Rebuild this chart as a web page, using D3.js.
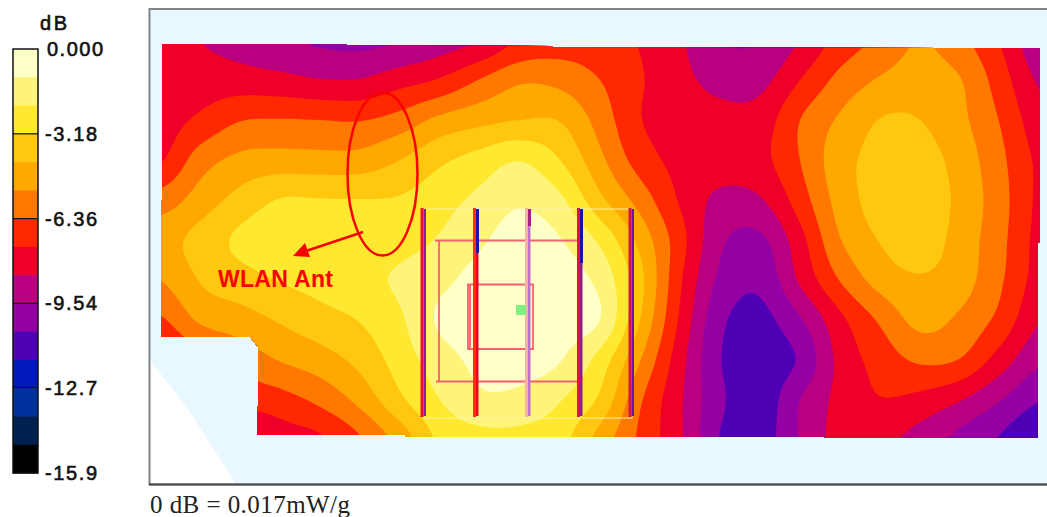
<!DOCTYPE html>
<html>
<head>
<meta charset="utf-8">
<script src="https://cdn.jsdelivr.net/npm/d3@7"></script>
<style>
  html, body { margin: 0; padding: 0; background: #fff; }
  svg { display: block; }
</style>
</head>
<body>
<div class="chart"></div>
<script>
const WIDTH = 1047;
const HEIGHT = 517;

// scale legend
const bandColors = ["#FFFFC8", "#FFF47A", "#FFE930", "#FFC80F", "#FFA800", "#FF7800", "#FF2800", "#EE0028",
    "#B80080", "#9400A4", "#5000B4", "#0018BC", "#00309C", "#002050", "#000000"];
const tickValues = [0, -3.18, -6.36, -9.54, -12.7, -15.9];
const tickLabels = ["0.000", "-3.18", "-6.36", "-9.54", "-12.7", "-15.9"];
const BOTTOM_DB = -15.9;

// sample positions of the grid, in picture pixels
const gridX = [160, 200, 240, 280, 320, 360, 400, 440, 480, 520, 560, 600, 640, 680, 720, 760, 800, 840, 880, 920, 960, 1000, 1040];
const gridY = [40, 80, 120, 160, 200, 240, 280, 320, 360, 400, 440];

// depth, in colour bands below the 0 dB peak (one band = 1.06 dB)
const row040 = [7.6, 8.0, 8.4, 8.85, 9.15, 9.25, 9.05, 8.5, 8.0, 6.9, 6.5, 6.6, 7.05, 7.85, 8.95, 9.0, 7.95, 6.6, 5.8, 4.95, 5.7, 7.0, 8.8];
const row080 = [7.4, 7.5, 7.55, 7.7, 7.95, 7.95, 7.4, 6.9, 5.95, 5.15, 5.3, 6.0, 6.9, 7.7, 8.3, 8.3, 7.0, 5.7, 4.9, 4.5, 4.95, 6.5, 8.15];
const row120 = [7.45, 6.8, 6.05, 5.95, 6.0, 6.05, 5.6, 4.75, 4.3, 4.0, 4.05, 5.4, 6.95, 7.4, 7.7, 7.55, 6.0, 4.85, 3.97, 4.0, 4.75, 6.05, 7.6];
const row160 = [7.1, 5.5, 4.75, 4.6, 4.65, 4.6, 4.0, 3.2, 2.6, 2.05, 3.0, 4.75, 6.45, 7.3, 7.5, 7.3, 6.0, 4.4, 3.7, 3.6, 4.4, 5.75, 7.2];
const row200 = [5.55, 4.55, 3.65, 2.95, 2.95, 2.97, 2.9, 2.4, 1.75, 1.15, 1.8, 3.75, 5.4, 7.1, 8.25, 8.1, 6.5, 4.6, 3.6, 3.4, 4.25, 5.6, 7.2];
const row240 = [4.4, 3.65, 2.8, 2.4, 2.4, 2.45, 2.35, 1.9, 1.15, 0.55, 0.95, 2.2, 4.3, 6.6, 8.8, 9.2, 7.35, 5.05, 3.95, 3.5, 4.4, 5.7, 7.3];
const row280 = [5.0, 3.95, 3.4, 2.95, 2.65, 2.3, 1.85, 1.25, 0.65, 0.4, 0.55, 1.3, 3.7, 6.85, 9.2, 9.75, 7.85, 5.95, 4.6, 4.1, 4.55, 5.85, 7.4];
const row320 = [6.15, 4.85, 4.45, 3.9, 3.4, 2.95, 2.15, 0.85, 0.5, 0.35, 0.55, 1.0, 4.0, 7.15, 9.75, 10.3, 9.1, 7.25, 5.85, 4.7, 5.2, 6.3, 7.95];
const row360 = [7.5, 6.5, 5.65, 4.95, 4.45, 3.7, 2.55, 1.45, 0.75, 0.55, 0.95, 2.4, 4.95, 7.6, 9.95, 10.6, 9.85, 7.7, 6.6, 5.85, 6.05, 7.45, 8.85];
const row400 = [9.0, 7.9, 6.85, 6.4, 5.75, 4.7, 3.2, 2.0, 1.2, 1.3, 1.95, 3.2, 5.85, 7.85, 9.8, 10.6, 9.0, 7.7, 7.05, 7.3, 7.95, 8.95, 9.95];
const row440 = [10.0, 9.2, 8.2, 7.5, 7.15, 6.1, 4.6, 2.8, 2.35, 2.3, 2.65, 4.4, 6.2, 7.85, 10.05, 10.5, 8.9, 7.65, 7.75, 8.4, 9.3, 10.1, 11.1];
const rows = [row040, row080, row120, row160, row200, row240, row280, row320, row360, row400, row440];

// outline of the scanned area
const scanArea = [[162, 44], [347, 44], [347, 45], [553, 46], [553, 47], [943, 48], [1040, 48], [1040, 243], [1038, 243], [1038, 438],
    [1019, 438], [824, 438], [824, 437], [405, 437], [405, 435], [257, 435], [257, 406], [258, 406], [258, 347], [250, 337], [161, 337], [161, 200], [162, 200]];

// probe grid traces drawn over the field
const traceX = [423.5, 476, 528, 580, 631.5];
const traceLeft = ["#F0102C", "#FF3010", "#F4B4A4", "#E01040", "#D81440"];
const traceRight = ["#8A1AA8", "#E8002A", "#C070C8", "#A01098", "#7010B0"];
const traceTip = ["#8A1AA8", "#2010B0", "#B01890", "#2010A0", "#7010B0"];
const traceTipEnd = [208, 252, 225, 262, 208];

const FINE = 8;
const bandStep = -BOTTOM_DB / bandColors.length;

var translate = function (x, y) {
    return "translate(" + x + "," + y + ")";
};

// catmull-rom between the read values, only so the band edges come out round
var cubic = function (a, b, c, d, t) {
    return b + 0.5 * t * (c - a + t * (2 * a - 5 * b + 4 * c - d + t * (3 * (b - c) + d - a)));
};
var clampAt = function (arr, i) {
    return arr[Math.max(0, Math.min(arr.length - 1, i))];
};
var fieldAt = function (fx, fy) {
    var ix = Math.floor(fx), iy = Math.floor(fy);
    var across = [-1, 0, 1, 2].map(function (k) {
        var row = clampAt(rows, iy + k);
        return cubic(clampAt(row, ix - 1), clampAt(row, ix), clampAt(row, ix + 1), clampAt(row, ix + 2), fx - ix);
    });
    return -bandStep * cubic(across[0], across[1], across[2], across[3], fy - iy);
};

var fineW = (gridX.length - 1) * FINE + 1;
var fineH = (gridY.length - 1) * FINE + 1;
var fineValues = [];
for (var j = 0; j < fineH; j++) {
    for (var i = 0; i < fineW; i++) {
        fineValues.push(fieldAt(i / FINE, j / FINE));
    }
}

var _svg = d3.select(".chart").append("svg")
    .attr("width", WIDTH)
    .attr("height", HEIGHT)
    .attr("font-family", "'Liberation Sans', Arial, sans-serif");

// frame and background
_svg.append("rect")
    .attr("x", 150).attr("y", 9)
    .attr("width", WIDTH - 150).attr("height", 475)
    .attr("fill", "#E9F7FF");

_svg.append("path")
    .attr("d", "M150,360L190,412L236,484L150,484Z")
    .attr("fill", "#fff");

_svg.append("path")
    .attr("d", "M" + WIDTH + ",9H149.5V484.5H" + WIDTH)
    .attr("fill", "none")
    .attr("stroke", "#7F8486")
    .attr("stroke-width", 2);
_svg.append("line")
    .attr("x1", 149).attr("x2", WIDTH).attr("y1", 484.5).attr("y2", 484.5)
    .attr("stroke", "#4A4A4A").attr("stroke-width", 2);

// contour field
var x = d3.scaleLinear().domain([0.5, fineW - 0.5]).range([gridX[0], gridX[gridX.length - 1]]);
var y = d3.scaleLinear().domain([0.5, fineH - 0.5]).range([gridY[0], gridY[gridY.length - 1]]);

var thresholds = d3.range(bandColors.length).map(function (i) { return -(i + 1) * bandStep; }).reverse();
var colorFor = d3.scaleOrdinal().domain(thresholds).range(bandColors.slice().reverse());

var contours = d3.contours()
    .size([fineW, fineH])
    .thresholds(thresholds)(fineValues);

var ringLine = d3.line()
    .x(function (d) { return x(d[0]); })
    .y(function (d) { return y(d[1]); });

_svg.append("clipPath").attr("id", "scan")
    .append("path").attr("d", "M" + scanArea.join("L") + "Z");

_svg.append("g")
    .attr("clip-path", "url(#scan)")
    .selectAll("path")
    .data(contours)
    .enter()
    .append("path")
    .attr("fill-rule", "evenodd")
    .attr("fill", function (d) { return colorFor(d.value); })
    .attr("d", function (d) {
        return d.coordinates.map(function (poly) {
            return poly.map(function (ring) { return ringLine(ring) + "Z"; }).join("");
        }).join("");
    });

// probe traces
var traces = _svg.append("g");
traces.append("rect")
    .attr("x", 424).attr("y", 209).attr("width", 208).attr("height", 209)
    .attr("fill", "none").attr("stroke", "#FFF0A8").attr("stroke-width", 1);

traces.append("path")
    .attr("d", "M435,240.5H578V381.5H436M439,240V381M467,284.5H533V349H468V285M470,285V349")
    .attr("fill", "none").attr("stroke", "#F86070").attr("stroke-width", 1.8);

traces.selectAll(".left").data(traceX).enter().append("rect")
    .attr("x", function (d) { return d - 3; })
    .attr("y", 208).attr("width", 3).attr("height", 209)
    .attr("fill", function (d, i) { return traceLeft[i]; });
traces.selectAll(".right").data(traceX).enter().append("rect")
    .attr("x", function (d) { return d; })
    .attr("y", 209).attr("width", 2.5).attr("height", 207)
    .attr("fill", function (d, i) { return traceRight[i]; });
traces.selectAll(".tip").data(traceX).enter().append("rect")
    .attr("x", function (d) { return d; })
    .attr("y", 209).attr("width", 3)
    .attr("height", function (d, i) { return traceTipEnd[i] - 209 + 1; })
    .attr("fill", function (d, i) { return traceTip[i]; });

traces.append("rect")
    .attr("x", 516).attr("y", 305).attr("width", 10).attr("height", 10)
    .attr("fill", "#80F080");

// annotation
_svg.append("ellipse")
    .attr("cx", 382.5).attr("cy", 174).attr("rx", 35).attr("ry", 81.5)
    .attr("fill", "none").attr("stroke", "#FA0000").attr("stroke-width", 2.5);
_svg.append("line")
    .attr("x1", 363).attr("y1", 232).attr("x2", 303).attr("y2", 252)
    .attr("stroke", "#FA0000").attr("stroke-width", 2.5);
_svg.append("path")
    .attr("d", "M293,256L305,243L310,257Z")
    .attr("fill", "#FA0000");
_svg.append("text")
    .attr("x", 218).attr("y", 287)
    .attr("fill", "#FA0000")
    .attr("font-size", 23).attr("font-weight", "bold")
    .attr("textLength", 115)
    .text("WLAN Ant");

// legend
var legendY = d3.scaleLinear().domain([0, BOTTOM_DB]).range([49, 473]);
var legend = _svg.append("g");

legend.selectAll("rect")
    .data(bandColors)
    .enter()
    .append("rect")
    .attr("x", 13).attr("width", 25)
    .attr("y", function (d, i) { return legendY(-i * bandStep); })
    .attr("height", legendY(-bandStep) - legendY(0) + 0.5)
    .attr("fill", function (d) { return d; });

legend.append("rect")
    .attr("x", 13).attr("y", 49).attr("width", 25).attr("height", 424)
    .attr("fill", "none").attr("stroke", "#111").attr("stroke-width", 1.5);

legend.append("g")
    .selectAll("line")
    .data(tickValues.slice(1, 5))
    .enter()
    .append("line")
    .attr("x1", 13).attr("x2", 38)
    .attr("y1", function (d) { return legendY(d); })
    .attr("y2", function (d) { return legendY(d); })
    .attr("stroke", "#111").attr("stroke-width", 1.2);

var legendAxis = d3.axisRight(legendY)
    .tickValues(tickValues)
    .tickSize(0)
    .tickPadding(0)
    .tickFormat(function (d, i) { return tickLabels[i]; });

var axisG = legend.append("g")
    .attr("transform", translate(45, 0))
    .call(legendAxis);
axisG.select(".domain").remove();
axisG.selectAll("text")
    .attr("font-family", "'Liberation Sans', Arial, sans-serif")
    .attr("font-size", 20)
    .attr("fill", "#111")
    .attr("stroke", "#111")
    .attr("stroke-width", 0.6)
    .attr("textLength", function (d, i) { return i === 0 ? 56 : 52; })
    .attr("x", function (d, i) { return i === 0 ? 2 : 0; })
    .attr("dy", "0.32em");

legend.append("text")
    .attr("x", 40).attr("y", 30)
    .attr("font-size", 20)
    .attr("textLength", 27)
    .attr("fill", "#111")
    .attr("stroke", "#111")
    .attr("stroke-width", 0.6)
    .text("dB");

// scale note
_svg.append("text")
    .attr("x", 150).attr("y", 513)
    .attr("font-family", "'Liberation Serif', 'Times New Roman', serif")
    .attr("font-size", 25)
    .attr("textLength", 200)
    .attr("fill", "#222")
    .text("0 dB = 0.017mW/g");
</script>
</body>
</html>
